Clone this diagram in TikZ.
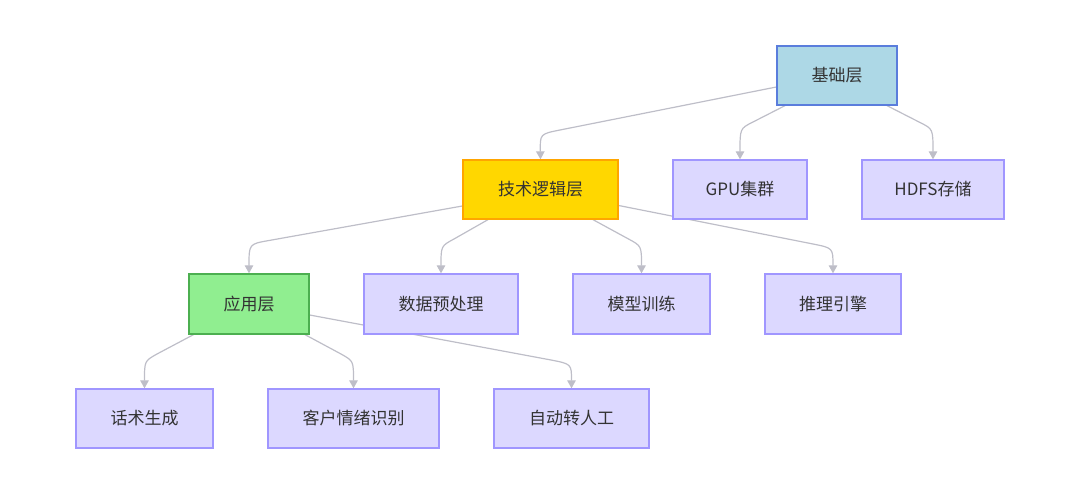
\documentclass[tikz,border=0pt]{standalone}
\usepackage{fontspec}
\setmainfont{Noto Sans CJK SC}
\usetikzlibrary{arrows.meta,backgrounds}

\definecolor{basefill}{HTML}{ADD8E6}
\definecolor{baseline}{RGB}{90,125,220}
\definecolor{techfill}{HTML}{FFD700}
\definecolor{techline}{HTML}{FFA500}
\definecolor{appfill}{HTML}{90EE90}
\definecolor{appline}{HTML}{4CAF50}
\definecolor{partfill}{RGB}{220,216,255}
\definecolor{partline}{RGB}{160,150,255}
\definecolor{linkgray}{RGB}{190,190,200}
\definecolor{ink}{RGB}{51,51,51}

\begin{document}
\begin{tikzpicture}[x=1pt,y=-1pt,>={Triangle[length=8pt,width=8.5pt]},
    box/.style={draw,line width=1.3pt,minimum height=59pt,inner sep=0pt,
      font=\fontsize{17}{20}\selectfont,text=ink},
    part/.style={box,fill=partfill,draw=partline},
    link/.style={->,draw=linkgray,line width=1.2pt}]
  \useasboundingbox (0,0) rectangle (1080,494);
  % top layer
  \node[box,fill=basefill,draw=baseline,minimum width=120pt] (base) at (837,75.5) {基础层};
  % second row
  \node[box,fill=techfill,draw=techline,minimum width=155pt] (tech) at (540.5,189.5) {技术逻辑层};
  \node[part,minimum width=134pt] (gpu) at (740,189.5) {GPU集群};
  \node[part,minimum width=142pt] (hdfs) at (933,189.5) {HDFS存储};
  % third row
  \node[box,fill=appfill,draw=appline,minimum width=120pt,minimum height=60pt] (app) at (249,304) {应用层};
  \node[part,minimum width=154pt,minimum height=60pt] (prep) at (441,304) {数据预处理};
  \node[part,minimum width=137pt,minimum height=60pt] (train) at (641.5,304) {模型训练};
  \node[part,minimum width=136pt,minimum height=60pt] (infer) at (833,304) {推理引擎};
  % bottom row
  \node[part,minimum width=137pt] (talk) at (144.5,418.5) {话术生成};
  \node[part,minimum width=171pt] (emotion) at (353.5,418.5) {客户情绪识别};
  \node[part,minimum width=155pt] (handoff) at (571.5,418.5) {自动转人工};

  \begin{scope}[on background layer]
    \draw[link] ([yshift=-11.5pt]base.west) -- (560,130) .. controls (540,134) .. (tech.north);
    \draw[link] ([xshift=-52pt]base.south) -- (753,122) .. controls (740,128.5) .. (gpu.north);
    \draw[link] ([xshift=50pt]base.south) -- (920,122.5) .. controls (933,129) .. (hdfs.north);
    \draw[link] ([yshift=-16.5pt]tech.west) -- (269,240.5) .. controls (249,244) .. (app.north);
    \draw[link] ([xshift=-52.5pt]tech.south) -- (454,239) .. controls (441,246) .. (prep.north);
    \draw[link] ([xshift=52.5pt]tech.south) -- (628.5,239) .. controls (641.5,246) .. (train.north);
    \draw[link] ([yshift=-16pt]tech.east) -- (813,244) .. controls (833,248) .. (infer.north);
    \draw[link] ([xshift=-55.5pt]app.south) -- (157,354) .. controls (144.5,361) .. (talk.north);
    \draw[link] ([xshift=56pt]app.south) -- (341,354) .. controls (353.5,361) .. (emotion.north);
    \draw[link] ([yshift=-11pt]app.east) -- (551,360) .. controls (571.5,364) .. (handoff.north);
  \end{scope}
\end{tikzpicture}
\end{document}
